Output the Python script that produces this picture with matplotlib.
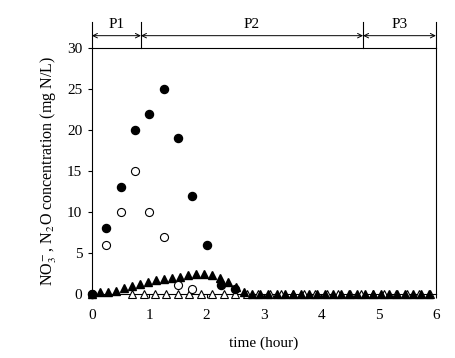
import matplotlib.pyplot as plt
import matplotlib.transforms as mtransforms

plt.rcParams["font.family"] = ["Liberation Serif", "DejaVu Serif"]
plt.rcParams["mathtext.fontset"] = "stix"

# NO3- (filled circles)
no3_t = [0, 0.25, 0.5, 0.75, 1.0, 1.25, 1.5, 1.75, 2.0, 2.25, 2.5]
no3_c = [0, 8, 13, 20, 22, 25, 19, 12, 6, 1.1, 0.6]

# N2O dissolved (open circles)
n2o_t = [0, 0.25, 0.5, 0.75, 1.0, 1.25, 1.5, 1.75]
n2o_c = [0, 6, 10, 15, 10, 7, 1.1, 0.6]

# filled triangles
tri_f_t = [0, 0.14, 0.28, 0.42, 0.56, 0.7, 0.84, 0.98, 1.12, 1.26, 1.4,
           1.54, 1.68, 1.82, 1.96, 2.1, 2.24, 2.38, 2.52, 2.66, 2.8, 2.94,
           3.08, 3.22, 3.36, 3.5, 3.64, 3.78, 3.92, 4.06, 4.2, 4.34, 4.48,
           4.62, 4.76, 4.9, 5.04, 5.18, 5.32, 5.46, 5.6, 5.74, 5.88]
tri_f_c = [0, 0.2, 0.2, 0.4, 0.7, 1.0, 1.2, 1.5, 1.7, 1.8, 1.9,
           2.1, 2.3, 2.4, 2.4, 2.3, 1.9, 1.4, 0.8, 0.2, 0, 0,
           0, 0, 0, 0, 0, 0, 0, 0, 0, 0, 0,
           0, 0, 0, 0, 0, 0, 0, 0, 0, 0]

# open triangles
tri_o_t = [0.7, 0.9, 1.1, 1.3, 1.5, 1.7, 1.9, 2.1, 2.3, 2.5, 2.7, 2.9, 3.1,
           3.3, 3.5, 3.7, 3.9, 4.1, 4.3, 4.5, 4.7, 4.9, 5.1, 5.3, 5.5, 5.7, 5.9]
tri_o_c = [0] * len(tri_o_t)

# phase boundaries
phase_edges = [0, 0.855, 4.73, 6]
phase_labels = ["P1", "P2", "P3"]

fig = plt.figure(figsize=(4.55, 3.58), dpi=100)
ax = fig.add_axes([0.202, 0.179, 0.756, 0.687])

ax.plot(tri_o_t, tri_o_c, linestyle="none", marker="^", markersize=6,
        markerfacecolor="white", markeredgecolor="black", markeredgewidth=0.8,
        clip_on=False, zorder=3)
ax.plot(tri_f_t, tri_f_c, linestyle="none", marker="^", markersize=6,
        color="black", clip_on=False, zorder=4)
ax.plot(n2o_t, n2o_c, linestyle="none", marker="o", markersize=5.8,
        markerfacecolor="white", markeredgecolor="black", markeredgewidth=0.8,
        clip_on=False, zorder=5)
ax.plot(no3_t, no3_c, linestyle="none", marker="o", markersize=5.8,
        color="black", clip_on=False, zorder=6)

ax.set_xlim(0, 6)
ax.set_ylim(0, 30)
ax.set_xticks(range(0, 7))
ax.set_yticks(range(0, 31, 5))
ax.tick_params(direction="out", length=3, width=0.8, labelsize=11)
ax.tick_params(axis="x", pad=8)
ax.tick_params(axis="y", pad=4)
for s in ax.spines.values():
    s.set_linewidth(0.8)

ax.set_xlabel("time (hour)", fontsize=11, labelpad=10)
ax.set_ylabel("NO$_3^-$, N$_2$O concentration (mg N/L)", fontsize=11.5,
              labelpad=6)

# phase annotation above the axes
trans = mtransforms.blended_transform_factory(ax.transData, ax.transAxes)
for x in phase_edges:
    ax.plot([x, x], [1.0, 1.105], color="black", lw=0.8, transform=trans,
            clip_on=False)
for i, lab in enumerate(phase_labels):
    x0, x1 = phase_edges[i], phase_edges[i + 1]
    ax.annotate("", xy=(x0, 1.05), xytext=(x1, 1.05), xycoords=trans,
                textcoords=trans,
                arrowprops=dict(arrowstyle="<->", lw=0.7, color="black",
                                shrinkA=0, shrinkB=0, mutation_scale=8))
    ax.text((x0 + x1) / 2, 1.095, lab, transform=trans, ha="center",
            va="center", fontsize=11)

fig.savefig("out.png", dpi=100)
